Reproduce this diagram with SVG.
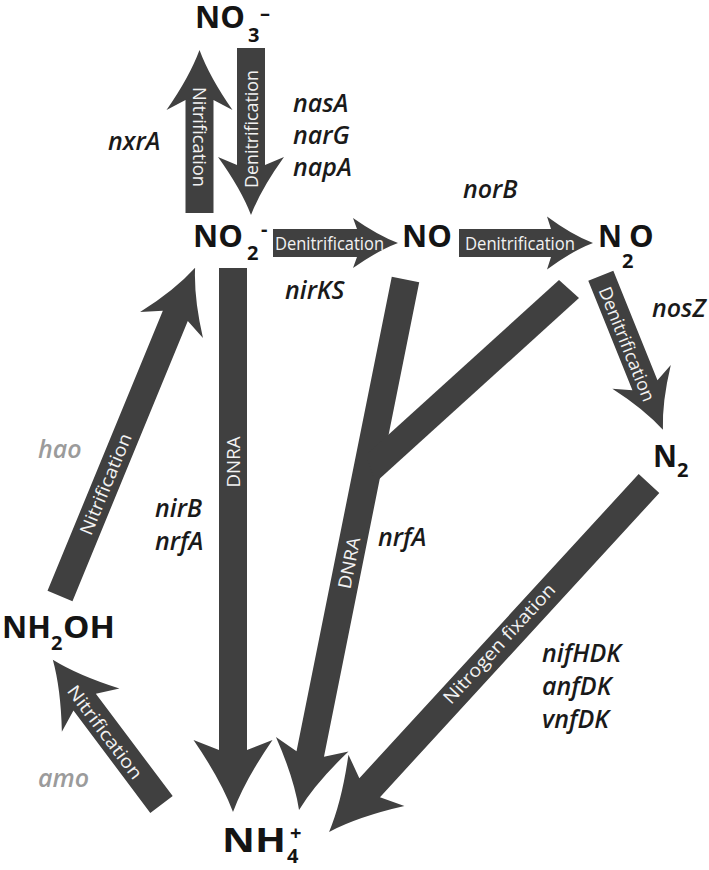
<svg xmlns="http://www.w3.org/2000/svg" width="709" height="870" viewBox="0 0 709 870">
<style>
.arr{fill:#404040}
.al{font-family:"Open Sans","DejaVu Sans",sans-serif;font-size:18px;fill:#f2f2f2;text-anchor:middle}
.chem{font-family:"Open Sans","Liberation Sans",sans-serif;font-weight:700;font-size:31px;fill:#141414}
.sub{font-size:20px}
.gene{font-family:"Open Sans","Liberation Sans",sans-serif;font-style:italic;font-weight:600;font-size:25px;fill:#1a1a1a}
.gray{fill:#9b9b9b}
</style>
<rect width="709" height="870" fill="#ffffff"/>
<g id="connectors">
  <g transform="translate(199.5,213) rotate(-90)">
    <path class="arr" d="M0,-14 H113 L103,-33 Q136,-10 163,0 Q136,10 103,33 L113,14 H0 Z"/>
  </g>
  <g transform="translate(251,48) rotate(90)">
    <path class="arr" d="M0,-14 H117 L109,-33 Q141,-10 167,0 Q141,10 109,33 L117,14 H0 Z"/>
  </g>
  <g transform="translate(273,243)">
    <path class="arr" d="M0,-14 H84 L80,-25 Q105,-7.5 125,0 Q105,7.5 80,25 L84,14 H0 Z"/>
  </g>
  <g transform="translate(459,243)">
    <path class="arr" d="M0,-14 H92 L88,-26.5 Q113,-8 134,0 Q113,8 88,26.5 L92,14 H0 Z"/>
  </g>
  <g transform="translate(600.8,275.8) rotate(68.03)">
    <path class="arr" d="M0,-13.5 H118 L109,-31.5 Q140,-9.5 166,0 Q140,9.5 109,31.5 L118,13.5 H0 Z"/>
  </g>
  <g transform="translate(233,268) rotate(90)">
    <path class="arr" d="M0,-14 H482 L472,-39.5 Q512,-12 544,0 Q512,12 472,39.5 L482,14 H0 Z"/>
  </g>
  <g transform="translate(405.5,279.5) rotate(101.35)">
    <path class="arr" d="M0,-14 H484 L474,-37 Q511,-11 541,0 Q511,11 474,37 L484,14 H0 Z"/>
  </g>
  <polygon class="arr" points="559,280 579,298 375.2,482.8 366.3,454.7"/>
  <g transform="translate(649,483.5) rotate(132.56)">
    <path class="arr" d="M0,-14 H413 L403,-38 Q441.5,-11.4 473,0 Q441.5,11.4 403,38 L413,14 H0 Z"/>
  </g>
  <g transform="translate(60,596) rotate(-67.63)">
    <path class="arr" d="M0,-13.5 H303 L293,-34 Q327,-10 355,0 Q327,10 293,34 L303,13.5 H0 Z"/>
  </g>
  <g transform="translate(161.5,804.5) rotate(-126.9)">
    <path class="arr" d="M0,-14 H128 L118,-36 Q153,-11 181,0 Q153,11 118,36 L128,14 H0 Z"/>
  </g>
  <text class="al" transform="translate(199.5,137) rotate(90)" x="0" y="6.5" textLength="100" lengthAdjust="spacingAndGlyphs">Nitrification</text>
  <text class="al" transform="translate(251,129) rotate(-90)" x="0" y="6.5" textLength="118" lengthAdjust="spacingAndGlyphs">Denitrification</text>
  <text class="al" transform="translate(329.5,243)" x="0" y="6.5" textLength="109" lengthAdjust="spacingAndGlyphs">Denitrification</text>
  <text class="al" transform="translate(520,243)" x="0" y="6.5" textLength="110" lengthAdjust="spacingAndGlyphs">Denitrification</text>
  <text class="al" transform="translate(627,344) rotate(68.03)" x="0" y="6.5" textLength="122" lengthAdjust="spacingAndGlyphs">Denitrification</text>
  <text class="al" transform="translate(233,462) rotate(-90)" x="0" y="6.5" textLength="51" lengthAdjust="spacingAndGlyphs">DNRA</text>
  <text class="al" transform="translate(349,563) rotate(-78.65)" x="0" y="6.5" textLength="52" lengthAdjust="spacingAndGlyphs">DNRA</text>
  <text class="al" transform="translate(499,643.5) rotate(-47.44)" x="0" y="6.5" textLength="156" lengthAdjust="spacingAndGlyphs">Nitrogen fixation</text>
  <text class="al" transform="translate(105.5,484) rotate(-67.63)" x="0" y="6.5" textLength="108" lengthAdjust="spacingAndGlyphs">Nitrification</text>
  <text class="al" transform="translate(105,732) rotate(53.1)" x="0" y="6.5" textLength="112" lengthAdjust="spacingAndGlyphs">Nitrification</text>
</g>
<g id="NO3">
  <text class="chem"><tspan x="195" y="28">NO</tspan><tspan class="sub" x="248" y="42">3</tspan><tspan class="sub" x="260" y="20">–</tspan></text>
</g>
<g id="NO2">
  <text class="chem"><tspan x="193" y="247">NO</tspan><tspan class="sub" x="247" y="260">2</tspan><tspan class="sub" x="261" y="236">-</tspan></text>
</g>
<g id="NO">
  <text class="chem" x="402" y="247">NO</text>
</g>
<g id="N2O">
  <text class="chem"><tspan x="598" y="247" textLength="24" lengthAdjust="spacingAndGlyphs">N</tspan><tspan class="sub" x="622" y="268">2</tspan><tspan x="629" y="247">O</tspan></text>
</g>
<g id="N2">
  <text class="chem"><tspan x="653" y="467" textLength="24" lengthAdjust="spacingAndGlyphs">N</tspan><tspan class="sub" x="677" y="477">2</tspan></text>
</g>
<g id="NH2OH">
  <text class="chem"><tspan x="2" y="638">NH</tspan><tspan class="sub" x="51" y="650">2</tspan><tspan x="63" y="638" textLength="52" lengthAdjust="spacingAndGlyphs">OH</tspan></text>
</g>
<g id="NH4">
  <text class="chem"><tspan x="222" y="852" style="font-size:34px" textLength="64" lengthAdjust="spacingAndGlyphs">NH</tspan><tspan class="sub" x="287" y="863">4</tspan><tspan class="sub" x="290" y="840">+</tspan></text>
</g>
<g id="genes">
  <text class="gene" x="108" y="150">nxrA</text>
  <text class="gene" x="293" y="112">nasA</text>
  <text class="gene" x="293" y="144">narG</text>
  <text class="gene" x="293" y="176">napA</text>
  <text class="gene" x="463" y="198">norB</text>
  <text class="gene" x="285" y="299">nirKS</text>
  <text class="gene" x="652" y="317">nosZ</text>
  <text class="gene" x="155" y="517">nirB</text>
  <text class="gene" x="155" y="550">nrfA</text>
  <text class="gene" x="378" y="546">nrfA</text>
  <text class="gene gray" x="38" y="458">hao</text>
  <text class="gene gray" x="38" y="787">amo</text>
  <text class="gene" x="542" y="662">nifHDK</text>
  <text class="gene" x="542" y="695">anfDK</text>
  <text class="gene" x="542" y="728">vnfDK</text>
</g>
</svg>
